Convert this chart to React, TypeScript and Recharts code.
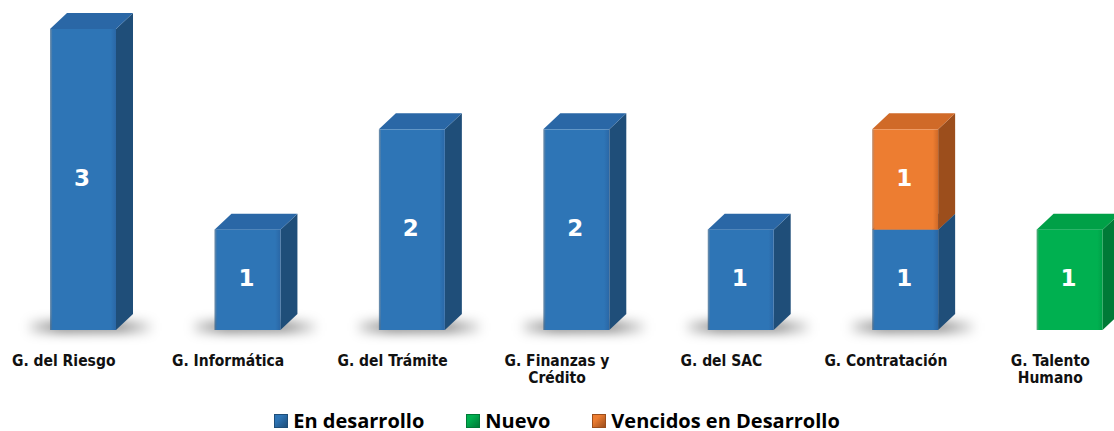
import React from "react";
import { Bar, BarChart, LabelList, Legend, Text, XAxis, YAxis } from "recharts";

// categories on the x axis
const categories = [
  "G. del Riesgo",
  "G. Informática",
  "G. del Trámite",
  "G. Finanzas y Crédito",
  "G. del SAC",
  "G. Contratación",
  "G. Talento Humano",
];

// one array per series (null = no bar)
const enDesarrollo = [3, 1, 2, 2, 1, 1, null];
const nuevo = [null, null, null, null, null, null, 1];
const vencidos = [null, null, null, null, null, 1, null];

const SERIES = [
  { key: "enDesarrollo", name: "En desarrollo", front: "#2E75B6", side: "#1F4E79", top: "#2A67A6", shadow: true },
  { key: "nuevo", name: "Nuevo", front: "#00B050", side: "#007A37", top: "#00A047", shadow: false },
  { key: "vencidos", name: "Vencidos en Desarrollo", front: "#ED7D31", side: "#9C4E1C", top: "#D06A28", shadow: false },
];

const data = categories.map((name, i) => ({
  name,
  enDesarrollo: enDesarrollo[i],
  nuevo: nuevo[i],
  vencidos: vencidos[i],
}));

const DX = 17;
const DY = 16;

function make3DShape(s: (typeof SERIES)[number]) {
  return (props: any) => {
    const { x, y, width, height } = props;
    if (!height || height <= 0) return <g />;
    const b = y + height;
    return (
      <g>
        {s.shadow && (
          <rect
            x={x - 20}
            y={b - 8}
            width={width + DX + 38}
            height={10}
            fill="url(#shadowGrad)"
            filter="url(#floorShadow)"
          />
        )}
        <polygon
          points={`${x + width},${y} ${x + width + DX},${y - DY} ${x + width + DX},${b - DY} ${x + width},${b}`}
          fill={s.side}
        />
        <polygon
          points={`${x},${y} ${x + DX},${y - DY} ${x + width + DX},${y - DY} ${x + width},${y}`}
          fill={s.top}
        />
        <rect x={x} y={y} width={width} height={height} fill={`url(#front-${s.key})`} />
      </g>
    );
  };
}

const ValueLabel = (props: any) => {
  const { x, y, width, height, value } = props;
  if (value == null || !height) return null;
  return (
    <text
      x={x + width / 2 - 1}
      y={y + height / 2 - 2}
      textAnchor="middle"
      dominantBaseline="central"
      fill="#fff"
      fontFamily="DejaVu Sans"
      fontWeight={700}
      fontSize={23}
    >
      {value}
    </text>
  );
};

const tickStyle = {
  fontFamily: "DejaVu Sans Condensed, DejaVu Sans",
  fontWeight: 700,
  fontSize: 15.5,
};

const CategoryTick = (props: any) => {
  const { x, y, payload } = props;
  return (
    <Text
      x={x - 19.5}
      y={y + 17}
      width={130}
      textAnchor="middle"
      verticalAnchor="start"
      lineHeight={17}
      fill="#111"
      style={tickStyle}
      {...tickStyle}
    >
      {payload.value}
    </Text>
  );
};

const LegendContent = () => (
  <div
    style={{
      display: "flex",
      justifyContent: "center",
      gap: 42,
      fontFamily: "Open Sans",
      fontWeight: 700,
      fontSize: 20,
      color: "#000",
      height: 20,
      lineHeight: "20px",
    }}
  >
    {SERIES.map((s) => (
      <span key={s.key} style={{ display: "flex", alignItems: "center" }}>
        <span
          style={{
            display: "inline-block",
            width: 12,
            height: 12,
            marginRight: 5,
            background: `linear-gradient(135deg, ${s.front} 30%, ${s.side})`,
            border: `1px solid ${s.side}`,
          }}
        />
        {s.name}
      </span>
    ))}
  </div>
);

export default function App() {
  return (
    <div style={{ position: "absolute", left: 0, top: 0, width: 1114, height: 431, overflow: "hidden", background: "#fff" }}>
      <BarChart
        width={1152}
        height={431}
        data={data}
        margin={{ top: 29, right: 0, left: 1, bottom: 31 }}
        barSize={66}
      >
        <defs>
          <filter id="floorShadow" x="-30%" y="-300%" width="160%" height="700%">
            <feGaussianBlur stdDeviation="6" />
          </filter>
          <linearGradient id="shadowGrad" x1="0" y1="0" x2="1" y2="0">
            <stop offset="0%" stopColor="#000" stopOpacity={0.15} />
            <stop offset="25%" stopColor="#000" stopOpacity={0.55} />
            <stop offset="75%" stopColor="#000" stopOpacity={0.5} />
            <stop offset="100%" stopColor="#000" stopOpacity={0.1} />
          </linearGradient>
          {SERIES.map((s) => (
            <linearGradient key={s.key} id={`front-${s.key}`} x1="0" y1="0" x2="1" y2="0">
              <stop offset="0%" stopColor={s.side} stopOpacity={0.6} />
              <stop offset="4%" stopColor={s.front} />
              <stop offset="92%" stopColor={s.front} />
              <stop offset="100%" stopColor={s.top} />
            </linearGradient>
          ))}
        </defs>
        <XAxis
          dataKey="name"
          axisLine={false}
          tickLine={false}
          interval={0}
          height={50}
          tick={<CategoryTick />}
        />
        <YAxis hide domain={[0, 3]} />
        <Legend
          content={<LegendContent />}
          wrapperStyle={{ top: 411, bottom: "auto", left: 0, width: 1114 }}
        />
        {SERIES.map((s) => (
          <Bar
            key={s.key}
            dataKey={s.key}
            name={s.name}
            stackId="a"
            fill={s.front}
            shape={make3DShape(s)}
            isAnimationActive={false}
          >
            <LabelList dataKey={s.key} content={<ValueLabel />} />
          </Bar>
        ))}
      </BarChart>
    </div>
  );
}
